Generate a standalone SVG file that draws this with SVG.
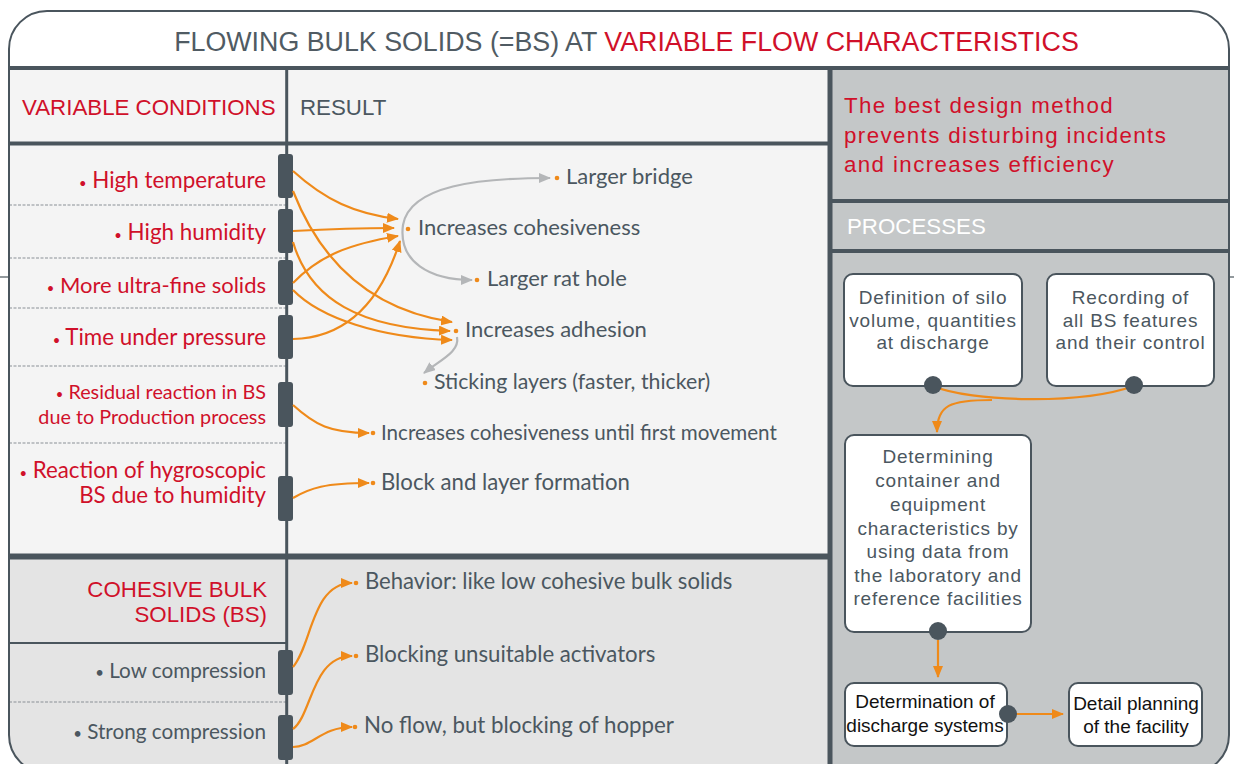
<svg xmlns="http://www.w3.org/2000/svg" width="1234" height="764" viewBox="0 0 1234 764">
<style>
.ttl{font-family:"Liberation Sans",Arial,sans-serif;font-size:26.8px;fill:#505b63}
.red{fill:#d0102a}
.hdr{font-family:"Liberation Sans",Arial,sans-serif;font-size:22.3px}
.lbl{font-family:Lato,"Noto Sans",sans-serif;fill:#d0102a;text-anchor:end}
.res{font-family:Lato,"Noto Sans",sans-serif;fill:#4b5760}
.gl{font-family:Lato,"Noto Sans",sans-serif;fill:#4b5760;text-anchor:end;font-size:20.7px}
.pt{font-family:"Liberation Sans",Arial,sans-serif;font-size:19px;fill:#4b5760;text-anchor:middle;letter-spacing:0.8px}
.pb{font-family:"Liberation Sans",Arial,sans-serif;font-size:19px;fill:#111;text-anchor:middle}
.bar{fill:#4a555d}
.dash{stroke:#8a9096;stroke-width:1.2;stroke-dasharray:3 1.5}
.thick{stroke:#4a555d;fill:none}
.oc{fill:none;stroke:#ef8a1a;stroke-width:2.2}
.gc{fill:none;stroke:#b4b6b8;stroke-width:2.2}
.dot{fill:#ef8a1a}
.box{fill:#fff;stroke:#4a555d;stroke-width:2}
.pdot{fill:#4a555d}
.bu{font-size:13px}
</style>
<defs>
<clipPath id="frameClip"><rect x="9" y="11" width="1220" height="762" rx="38"/></clipPath>
<marker id="ao" viewBox="0 0 12 10" refX="11" refY="5" markerWidth="12" markerHeight="10" markerUnits="userSpaceOnUse" orient="auto"><path d="M0,0 L12,5 L0,10 z" fill="#ef8a1a"/></marker>
<marker id="ag" viewBox="0 0 12 10" refX="11" refY="5" markerWidth="12" markerHeight="10" markerUnits="userSpaceOnUse" orient="auto-start-reverse"><path d="M0,0 L12,5 L0,10 z" fill="#b4b6b8"/></marker>
</defs>
<rect width="1234" height="764" fill="#fff"/>
<g id="frame-bg" clip-path="url(#frameClip)">
<rect x="9" y="11" width="1220" height="762" fill="#fff"/>
<rect x="9" y="68" width="821" height="488" fill="#f4f4f4"/>
<rect x="9" y="556" width="821" height="220" fill="#e4e4e4"/>
<rect x="830" y="68" width="400" height="710" fill="#c4c7c8"/>
<line x1="9" y1="68" x2="1229" y2="68" class="thick" stroke-width="4"/>
<line x1="9" y1="143.5" x2="830" y2="143.5" class="thick" stroke-width="4"/>
<line x1="9" y1="556.5" x2="830" y2="556.5" class="thick" stroke-width="6"/>
<line x1="830" y1="68" x2="830" y2="776" class="thick" stroke-width="5"/>
<line x1="830" y1="201" x2="1229" y2="201" class="thick" stroke-width="4"/>
<line x1="830" y1="251" x2="1229" y2="251" class="thick" stroke-width="4"/>
<line x1="9" y1="643" x2="287" y2="643" class="thick" stroke-width="2.2"/>
<line x1="9" y1="205" x2="286" y2="205" class="dash"/>
<line x1="9" y1="258" x2="286" y2="258" class="dash"/>
<line x1="9" y1="308" x2="286" y2="308" class="dash"/>
<line x1="9" y1="366" x2="286" y2="366" class="dash"/>
<line x1="9" y1="443" x2="286" y2="443" class="dash"/>
<line x1="9" y1="702" x2="286" y2="702" class="dash"/>
<line x1="286.7" y1="68" x2="286.7" y2="776" class="thick" stroke-width="3"/>
</g>
<rect x="9" y="11" width="1220" height="762" rx="38" fill="none" stroke="#4a555d" stroke-width="2"/>
<line x1="0" y1="277" x2="9" y2="277" stroke="#4a555d" stroke-width="1.2"/>
<line x1="1229" y1="277" x2="1234" y2="277" stroke="#4a555d" stroke-width="1.2"/>

<g id="title"><text class="ttl" x="626.5" y="51" text-anchor="middle">FLOWING BULK SOLIDS (=BS) AT <tspan class="red">VARIABLE FLOW CHARACTERISTICS</tspan></text></g>
<g id="header-conditions"><text class="hdr red" x="22" y="115">VARIABLE CONDITIONS</text></g>
<g id="header-result"><text class="hdr" x="300" y="115" fill="#4b5760" font-size="21.5">RESULT</text></g>

<g id="cond-high-temperature"><rect class="bar" x="278" y="154" width="15" height="44" rx="3"/><text class="lbl" x="266" y="188" font-size="22.4"><tspan class="bu">•</tspan> High temperature</text></g>
<g id="cond-high-humidity"><rect class="bar" x="278" y="209" width="15" height="44" rx="3"/><text class="lbl" x="266" y="240" font-size="22.4"><tspan class="bu">•</tspan> High humidity</text></g>
<g id="cond-ultra-fine"><rect class="bar" x="278" y="260" width="15" height="45" rx="3"/><text class="lbl" x="266" y="292.5" font-size="22"><tspan class="bu">•</tspan> More ultra-fine solids</text></g>
<g id="cond-time-pressure"><rect class="bar" x="278" y="315" width="15" height="44" rx="3"/><text class="lbl" x="266" y="345" font-size="22.4"><tspan class="bu">•</tspan> Time under pressure</text></g>
<g id="cond-residual"><rect class="bar" x="278" y="382" width="15" height="45" rx="3"/><text class="lbl" x="266" y="399" font-size="19.8"><tspan class="bu">•</tspan> Residual reaction in BS</text><text class="lbl" x="266" y="424" font-size="19.8">due to Production process</text></g>
<g id="cond-hygroscopic"><rect class="bar" x="278" y="476" width="15" height="45" rx="3"/><text class="lbl" x="266" y="478" font-size="22.3"><tspan class="bu">•</tspan> Reaction of hygroscopic</text><text class="lbl" x="266" y="503" font-size="22.3">BS due to humidity</text></g>
<g id="cohesive-header"><text class="hdr red" x="267" y="597" text-anchor="end" font-size="22">COHESIVE BULK</text><text class="hdr red" x="267" y="622" text-anchor="end" font-size="22">SOLIDS (BS)</text></g>
<g id="cond-low-compression"><rect class="bar" x="278" y="650" width="15" height="45" rx="3"/><text class="gl" x="266" y="678"><tspan font-size="15">•</tspan> Low compression</text></g>
<g id="cond-strong-compression"><rect class="bar" x="278" y="715" width="15" height="45" rx="3"/><text class="gl" x="266" y="739"><tspan font-size="15">•</tspan> Strong compression</text></g>

<g id="res-larger-bridge"><circle class="dot" cx="557" cy="178" r="2.3"/><text class="res" x="566" y="184" font-size="22">Larger bridge</text></g>
<g id="res-cohesiveness"><circle class="dot" cx="408" cy="229" r="2.3"/><text class="res" x="418" y="235" font-size="22">Increases cohesiveness</text></g>
<g id="res-rat-hole"><circle class="dot" cx="477" cy="280" r="2.3"/><text class="res" x="487" y="286" font-size="22">Larger rat hole</text></g>
<g id="res-adhesion"><circle class="dot" cx="456" cy="331" r="2.3"/><text class="res" x="465" y="337" font-size="22">Increases adhesion</text></g>
<g id="res-sticking"><circle class="dot" cx="425" cy="383" r="2.3"/><text class="res" x="434" y="389" font-size="21.3">Sticking layers (faster, thicker)</text></g>
<g id="res-until-first"><circle class="dot" cx="373" cy="433" r="2.3"/><text class="res" x="381" y="440" font-size="20.6">Increases cohesiveness until first movement</text></g>
<g id="res-block"><circle class="dot" cx="373" cy="483" r="2.3"/><text class="res" x="381" y="490" font-size="22.2">Block and layer formation</text></g>
<g id="res-behavior"><circle class="dot" cx="356" cy="583" r="2.3"/><text class="res" x="365" y="589" font-size="22.1">Behavior: like low cohesive bulk solids</text></g>
<g id="res-blocking"><circle class="dot" cx="356" cy="656" r="2.3"/><text class="res" x="365" y="662" font-size="22.2">Blocking unsuitable activators</text></g>
<g id="res-no-flow"><circle class="dot" cx="355" cy="727" r="2.3"/><text class="res" x="364" y="733" font-size="22.3">No flow, but blocking of hopper</text></g>

<g id="right-statement"><text class="hdr red" x="844" y="113" font-size="23" letter-spacing="1.4">The best design method</text><text class="hdr red" x="844" y="143" font-size="23" letter-spacing="1.4">prevents disturbing incidents</text><text class="hdr red" x="844" y="172" font-size="23" letter-spacing="1.4">and increases efficiency</text></g>
<g id="processes-header"><text class="hdr" x="847" y="234" fill="#fff" font-size="22">PROCESSES</text></g>

<g id="proc-definition"><rect class="box" x="844" y="274" width="178" height="112" rx="9"/><text class="pt" x="933" y="304">Definition of silo</text><text class="pt" x="933" y="327">volume, quantities</text><text class="pt" x="933" y="349">at discharge</text></g>
<g id="proc-recording"><rect class="box" x="1047" y="274" width="167" height="112" rx="9"/><text class="pt" x="1130.5" y="304">Recording of</text><text class="pt" x="1130.5" y="327">all BS features</text><text class="pt" x="1130.5" y="349">and their control</text></g>
<g id="proc-determining"><rect class="box" x="845" y="435" width="186" height="197" rx="9"/><text class="pt" x="938" y="463">Determining</text><text class="pt" x="938" y="487">container and</text><text class="pt" x="938" y="511">equipment</text><text class="pt" x="938" y="535">characteristics by</text><text class="pt" x="938" y="558">using data from</text><text class="pt" x="938" y="582">the laboratory and</text><text class="pt" x="938" y="605">reference facilities</text></g>
<g id="proc-discharge"><rect class="box" x="845" y="683" width="162" height="63" rx="9"/><text class="pb" x="925" y="708">Determination of</text><text class="pb" x="925" y="732">discharge systems</text></g>
<g id="proc-detail"><rect class="box" x="1069" y="683" width="133" height="63" rx="9"/><text class="pb" x="1136" y="710">Detail planning</text><text class="pb" x="1136" y="733">of the facility</text></g>

<g id="connectors">
<path class="oc" d="M293,171 C325,200 355,214 398,219" marker-end="url(#ao)"/>
<path class="oc" d="M293,231 C330,229 360,228 394,228" marker-end="url(#ao)"/>
<path class="oc" d="M293,283 C320,255 350,244 398,236" marker-end="url(#ao)"/>
<path class="oc" d="M293,339 C340,338 378,310 400,241" marker-end="url(#ao)"/>
<path class="oc" d="M293,191 C320,260 370,310 452,322" marker-end="url(#ao)"/>
<path class="oc" d="M293,242 C310,300 360,328 450,331" marker-end="url(#ao)"/>
<path class="oc" d="M293,290 C320,318 380,338 452,340" marker-end="url(#ao)"/>
<path class="gc" d="M550,178 C480,178 410,185 403,225 C398,262 430,280 472,280" marker-start="url(#ag)" marker-end="url(#ag)"/>
<path class="gc" d="M457,337 C460,352 440,360 424,373" marker-end="url(#ag)"/>
<path class="oc" d="M293,405 C315,425 330,433 369,433" marker-end="url(#ao)"/>
<path class="oc" d="M293,498 C310,488 325,483 369,483" marker-end="url(#ao)"/>
<path class="oc" d="M293,667 C312,645 312,583 352,583" marker-end="url(#ao)"/>
<path class="oc" d="M293,729 C312,715 312,656 352,656" marker-end="url(#ao)"/>
<path class="oc" d="M293,747 C312,747 322,727 352,727" marker-end="url(#ao)"/>
<path class="oc" d="M933,386 C970,402 1080,405 1134,386"/>
<path class="oc" d="M992,400 C950,400 937,405 937,432" marker-end="url(#ao)"/>
<path class="oc" d="M938,640 L938,677" marker-end="url(#ao)"/>
<path class="oc" d="M1015,714 L1063,714" marker-end="url(#ao)"/>
<circle class="pdot" cx="933" cy="385" r="9"/>
<circle class="pdot" cx="1134" cy="385" r="9"/>
<circle class="pdot" cx="938" cy="631" r="9"/>
<circle class="pdot" cx="1008" cy="714" r="9"/>
</g>
</svg>
